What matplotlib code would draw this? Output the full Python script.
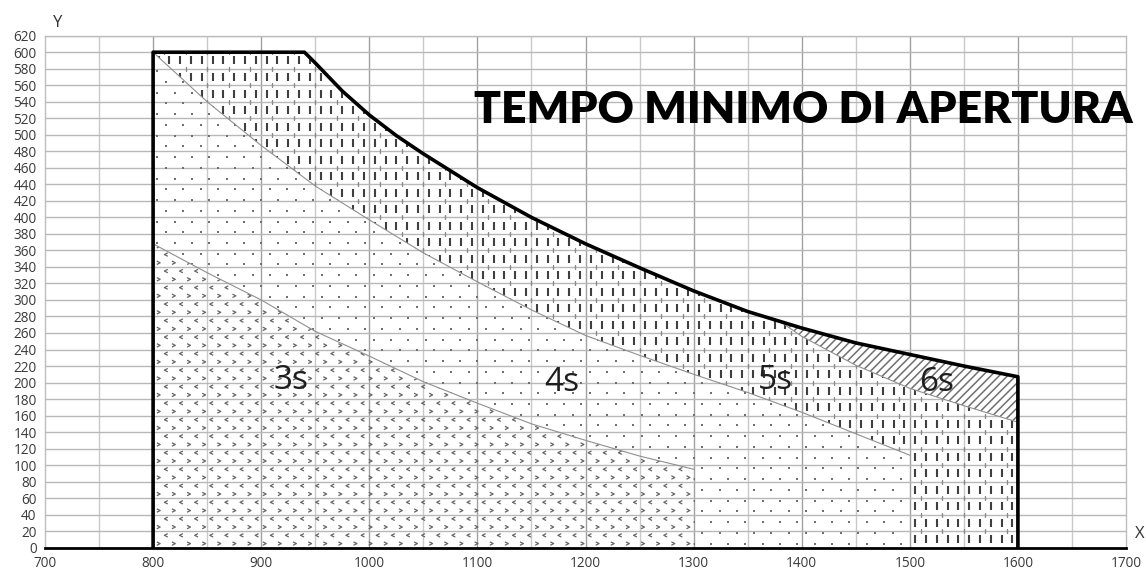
import numpy as np
import matplotlib
matplotlib.use("Agg")
from matplotlib import pyplot as plt
from matplotlib.patches import Polygon
from matplotlib.path import Path

# outer limit curve (top edge of the usable area)
outer_x = [940, 950, 975, 1000, 1025, 1050, 1100, 1150, 1200, 1250, 1300, 1350, 1380, 1400, 1450, 1500, 1550, 1600]
outer_y = [600, 587, 553, 524, 499, 477, 436, 400, 368, 339, 311, 286, 274, 266, 248, 234, 220, 207]

# boundary between 3s and 4s
b34_x = [800, 850, 900, 950, 1000, 1050, 1100, 1150, 1200, 1250, 1300]
b34_y = [368, 333, 300, 262, 232, 201, 175, 150, 130, 111, 95]

# boundary between 4s and 5s
b45_x = [800, 850, 900, 950, 1000, 1050, 1100, 1150, 1200, 1250, 1300, 1350, 1400, 1450, 1500]
b45_y = [600, 540, 487, 438, 397, 357, 322, 288, 257, 233, 210, 188, 164, 138, 112]

# boundary between 5s and 6s
b56_x = [1380, 1400, 1450, 1500, 1550, 1600]
b56_y = [274, 256, 221, 193, 172, 152]

zone_labels = ["3s", "4s", "5s", "6s"]
label_x = [928, 1178, 1376, 1525]
label_y = [203, 200, 203, 200]

x_ticks = list(range(700, 1701, 100))
y_ticks = list(range(0, 621, 20))

fig = plt.figure(figsize=(11.46, 5.72), dpi=100)
ax = fig.add_axes([45 / 1146, 24.3 / 572, 1081 / 1146, 512 / 572])
ax.set_xlim(700, 1700)
ax.set_ylim(0, 620)

# grid
for xv in range(750, 1700, 50):
    ax.axvline(xv, color="#a0a0a0" if xv % 100 == 0 else "#c9c9c9", lw=1.0, zorder=0)
for yv in range(20, 621, 20):
    ax.axhline(yv, color="#b8b8b8", lw=1.0, zorder=0)

ax.set_xticks(x_ticks)
ax.set_yticks(y_ticks)
ax.tick_params(length=0, labelsize=9.8, labelcolor="#3a3a3a", pad=6)
for lab in ax.get_xticklabels() + ax.get_yticklabels():
    lab.set_family("Open Sans")
for s in ["top", "right", "left"]:
    ax.spines[s].set_color("#bdbdbd")
    ax.spines[s].set_linewidth(1.0)
ax.spines["bottom"].set_color("black")
ax.spines["bottom"].set_linewidth(2)

# region polygons
outer_pts = [(800, 0), (800, 600)] + list(zip(outer_x, outer_y)) + [(1600, 0)]
p3 = [(800, 0)] + list(zip(b34_x, b34_y)) + [(1300, 0)]
p4 = list(zip(b45_x, b45_y)) + [(1500, 0), (1300, 0)] + list(zip(b34_x, b34_y))[::-1]
i = outer_x.index(1380)
p5 = [(800, 600)] + list(zip(outer_x[:i + 1], outer_y[:i + 1])) + list(zip(b56_x, b56_y))[1:] \
     + [(1600, 0), (1500, 0)] + list(zip(b45_x, b45_y))[::-1]
p6 = list(zip(outer_x[i:], outer_y[i:])) + list(zip(b56_x, b56_y))[::-1]


def clip_patch(pts):
    patch = Polygon(pts, closed=True, facecolor="none", edgecolor="none")
    ax.add_patch(patch)
    return patch


# 3s: small chevrons
chev_l = Path([(1, 1), (-1, 0), (1, -1)], [Path.MOVETO, Path.LINETO, Path.LINETO])
chev_r = Path([(-1, 1), (1, 0), (-1, -1)], [Path.MOVETO, Path.LINETO, Path.LINETO])
clip3 = clip_patch(p3)
for k, yy in enumerate(np.arange(5, 380, 10)):
    xs = np.arange(805 + (k % 2) * 7, 1300, 14)
    sc = ax.scatter(xs, np.full(len(xs), yy), marker=chev_r if k % 2 == 0 else chev_l,
                    s=6, facecolors="none", edgecolors="#666666", linewidths=0.9, zorder=2)
    sc.set_clip_path(clip3)

# 4s: sparse dots
clip4 = clip_patch(p4)
for k, yy in enumerate(np.arange(5, 600, 13)):
    xs = np.arange(804 + (k % 2) * 8, 1500, 16)
    sc = ax.scatter(xs, np.full(len(xs), yy), marker="s", s=1.8, color="#707070",
                    linewidths=0, zorder=2)
    sc.set_clip_path(clip4)

# 5s: short vertical dashes
clip5 = clip_patch(p5)
for k, yy in enumerate(np.arange(10, 600, 20)):
    xs = np.arange(805, 1600, 10)
    sc = ax.scatter(xs, np.full(len(xs), yy), marker="|", s=26, color="#3f3f3f",
                    linewidths=1.5, zorder=2)
    sc.set_clip_path(clip5)
    xs2 = np.arange(810, 1600, 20)
    sc = ax.scatter(xs2, np.full(len(xs2), yy + 10), marker="|", s=5, color="#8a8a8a",
                    linewidths=1.0, zorder=2)
    sc.set_clip_path(clip5)

# 6s: light diagonal hatch
plt.rcParams["hatch.linewidth"] = 1.1
ax.add_patch(Polygon(p6, closed=True, facecolor="white", edgecolor="#707070",
                     lw=0, hatch="////", zorder=2))

# zone boundaries
ax.plot(b34_x, b34_y, color="#909090", lw=0.8, zorder=3)
ax.plot(b45_x, b45_y, color="#909090", lw=0.8, zorder=3)
ax.plot(b56_x, b56_y, color="#909090", lw=0.8, zorder=3)

# outer limit
ox, oy = zip(*outer_pts)
ax.plot(ox, oy, color="black", lw=2.6, zorder=4, solid_joinstyle="round")

for t, xx, yy in zip(zone_labels, label_x, label_y):
    ax.text(xx, yy, t, ha="center", va="center", fontsize=24, family="Open Sans",
            color="#1e1e1e", zorder=5)

fig.text(58 / 1146, 1 - 23 / 572, "Y", ha="center", va="center", fontsize=12,
         family="Open Sans", color="#333333")
fig.text(1140 / 1146, 1 - 534 / 572, "X", ha="center", va="center", fontsize=12,
         family="Open Sans", color="#333333")
fig.text(1133 / 1146, 1 - 110 / 572, "TEMPO MINIMO DI APERTURA", ha="right", va="center",
         fontsize=32, family="Lato", weight="heavy", color="black")

fig.savefig("out.png", dpi=100)
